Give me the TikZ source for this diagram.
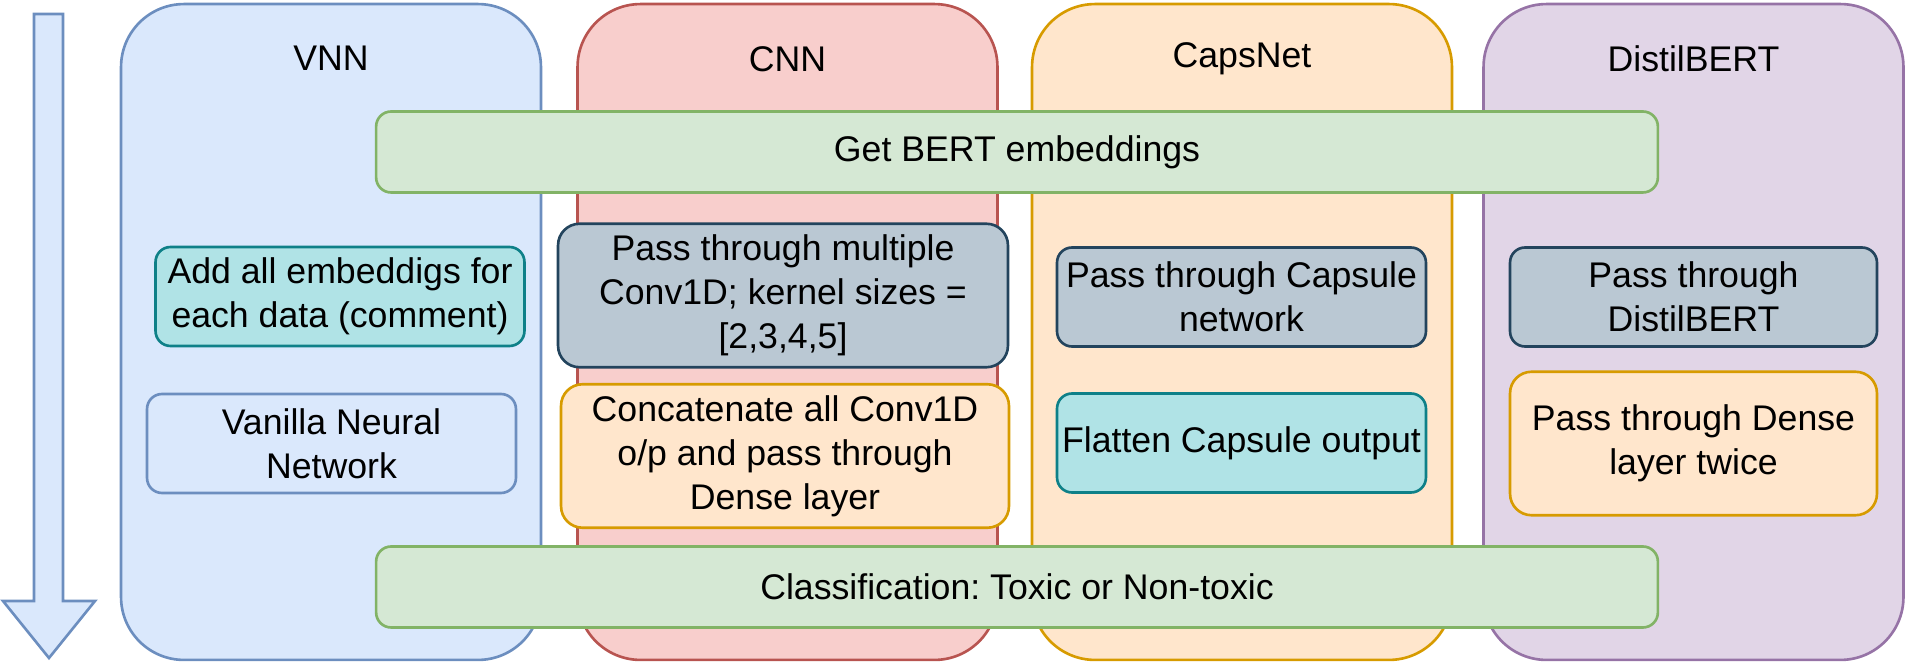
\documentclass[tikz,border=0pt]{standalone}
\usepackage{fontspec}
\setmainfont{Liberation Sans}
\frenchspacing
\definecolor{vnnfill}{HTML}{DAE8FC}
\definecolor{vnnline}{HTML}{6C8EBF}
\definecolor{cnnfill}{HTML}{F8CECC}
\definecolor{cnnline}{HTML}{B85450}
\definecolor{capsfill}{HTML}{FFE6CC}
\definecolor{capsline}{HTML}{D79B00}
\definecolor{bertfill}{HTML}{E1D5E7}
\definecolor{bertline}{HTML}{9673A6}
\definecolor{stagefill}{HTML}{D5E8D4}
\definecolor{stageline}{HTML}{82B366}
\definecolor{tealfill}{HTML}{B0E3E6}
\definecolor{tealline}{HTML}{0E8088}
\definecolor{slatefill}{HTML}{BAC8D3}
\definecolor{slateline}{HTML}{23445D}
\tikzset{
  lane/.style 2 args={draw=#1,fill=#2,rounded corners=1.26cm,minimum width=8.4cm,minimum height=13.12cm},
  stage/.style={draw=stageline,fill=stagefill,rounded corners=0.3cm,minimum width=25.64cm,minimum height=1.62cm},
  op/.style 2 args={draw=#1,fill=#2,rounded corners=0.3cm,minimum width=7.38cm,minimum height=1.98cm},
  tallop/.style 2 args={draw=#1,fill=#2,rounded corners=0.43cm,minimum height=2.87cm}
}
\begin{document}
\begin{tikzpicture}[x=0.02cm,y=-0.02cm,line width=1.5pt,
  every node/.style={font=\fontsize{20.3}{25}\selectfont,align=center,inner sep=0pt}]
\useasboundingbox (0,0) rectangle (1908,671);
\draw[draw=vnnline,fill=vnnfill] (34,14) -- (63,14) -- (63,601) -- (95,601) -- (49,658) -- (3,601) -- (34,601) -- cycle;
\node[lane={vnnline}{vnnfill}] (vnn) at (331,332) {};
\node[lane={cnnline}{cnnfill}] (cnn) at (787.5,332) {};
\node[lane={capsline}{capsfill}] (caps) at (1242,332) {};
\node[lane={bertline}{bertfill}] (bert) at (1693.5,332) {};
\node (vnntitle) at ([yshift=-1.12cm]vnn.north) {VNN};
\node (cnntitle) at ([yshift=-1.12cm]cnn.north) {CNN};
\node (capstitle) at ([yshift=-1.12cm]caps.north) {CapsNet};
\node (berttitle) at ([yshift=-1.12cm]bert.north) {DistilBERT};
\node[stage] (embed) at (1017,152) {Get BERT embeddings};
\node[stage] (classify) at (1017,587) {Classification: Toxic or Non-toxic};
\node[op={tealline}{tealfill}] (addemb) at (340,296.5) {Add all embeddigs for\\each data (comment)};
\node[op={vnnline}{vnnfill}] (vanilla) at (331.5,443.5) {Vanilla Neural\\Network};
\node[tallop={slateline}{slatefill},minimum width=9cm] (conv) at (783,295.5) {Pass through multiple\\Conv1D; kernel sizes =\\{[2,3,4,5]}};
\node[tallop={capsline}{capsfill},minimum width=8.96cm] (concat) at (785,456) {Concatenate all Conv1D\\o/p and pass through\\Dense layer};
\node[op={slateline}{slatefill}] (capsule) at (1241.5,297) {Pass through Capsule\\network};
\node[op={tealline}{tealfill}] (flatten) at (1241.5,443) {Flatten Capsule output};
\node[op={slateline}{slatefill},minimum width=7.34cm] (distil) at (1693.5,297) {Pass through\\DistilBERT};
\node[tallop={capsline}{capsfill},minimum width=7.34cm] (dense) at (1693.5,443.5) {Pass through Dense\\layer twice};
\end{tikzpicture}
\end{document}
